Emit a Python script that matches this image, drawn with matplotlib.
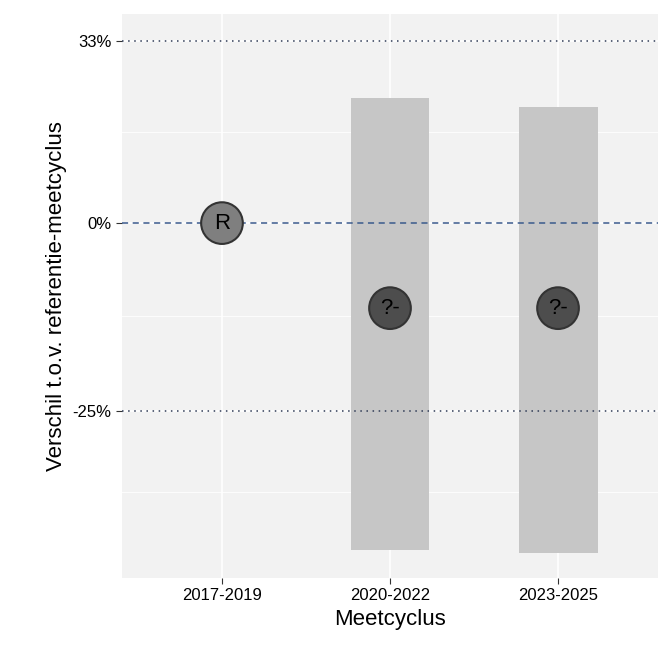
import numpy as np
import matplotlib.pyplot as plt

plt.rcParams['font.family'] = ['Liberation Sans', 'DejaVu Sans']

cycles = ['2017-2019', '2020-2022', '2023-2025']
labels = ['R', '?-', '?-']
estimate = [0.0, -0.133, -0.133]      # log ratio
lower = [np.nan, -0.511, -0.516]
upper = [np.nan, 0.195, 0.181]
point_colors = ['#7f7f7f', '#4d4d4d', '#4d4d4d']
ref_lines = [np.log(1.33), np.log(0.745)]
tick_labels = ['33%', '0%', '-25%']

fig = plt.figure(figsize=(6.72, 6.72), dpi=100)
ax = fig.add_axes([122/672, 94/672, 536/672, 564/672])
ax.set_facecolor('#f2f2f2')

x = np.arange(1, 4)
for i in range(3):
    if not np.isnan(lower[i]):
        ax.bar(x[i], upper[i] - lower[i], bottom=lower[i], width=0.47,
               color='#c6c6c6', zorder=2)

ax.axhline(0, color='#3a5a8c', ls=(0, (4, 3)), lw=1.1, zorder=3)
for r in ref_lines:
    ax.axhline(r, color='#2e3a55', ls=(0, (1, 3)), lw=1.1, zorder=3)

ax.scatter(x, estimate, s=900, c=point_colors, edgecolors='#333333',
           linewidths=1.5, zorder=4)
for i in range(3):
    ax.text(x[i], estimate[i], labels[i], ha='center', va='center',
            fontsize=16, color='black', zorder=5)

ax.set_xlim(0.405, 3.595)
ax.set_ylim(-0.555, 0.327)
ax.set_xticks(x)
ax.set_xticklabels(cycles, fontsize=12)
ax.set_yticks([ref_lines[0], 0, ref_lines[1]])
ax.set_yticklabels(tick_labels, fontsize=12)
ax.set_yticks([0.143, -0.145, -0.42], minor=True)
ax.grid(True, which='major', color='white', lw=1.2, zorder=0)
ax.grid(True, which='minor', axis='y', color='white', lw=0.6, zorder=0)
ax.set_axisbelow(True)
ax.tick_params(axis='both', which='major', length=4, color='#333333', labelcolor='black')
ax.tick_params(axis='y', which='minor', length=0)
for s in ax.spines.values():
    s.set_visible(False)
ax.set_xlabel('Meetcyclus', fontsize=16)
ax.set_ylabel('Verschil t.o.v. referentie-meetcyclus', fontsize=16)

plt.savefig('out.png', dpi=100)
